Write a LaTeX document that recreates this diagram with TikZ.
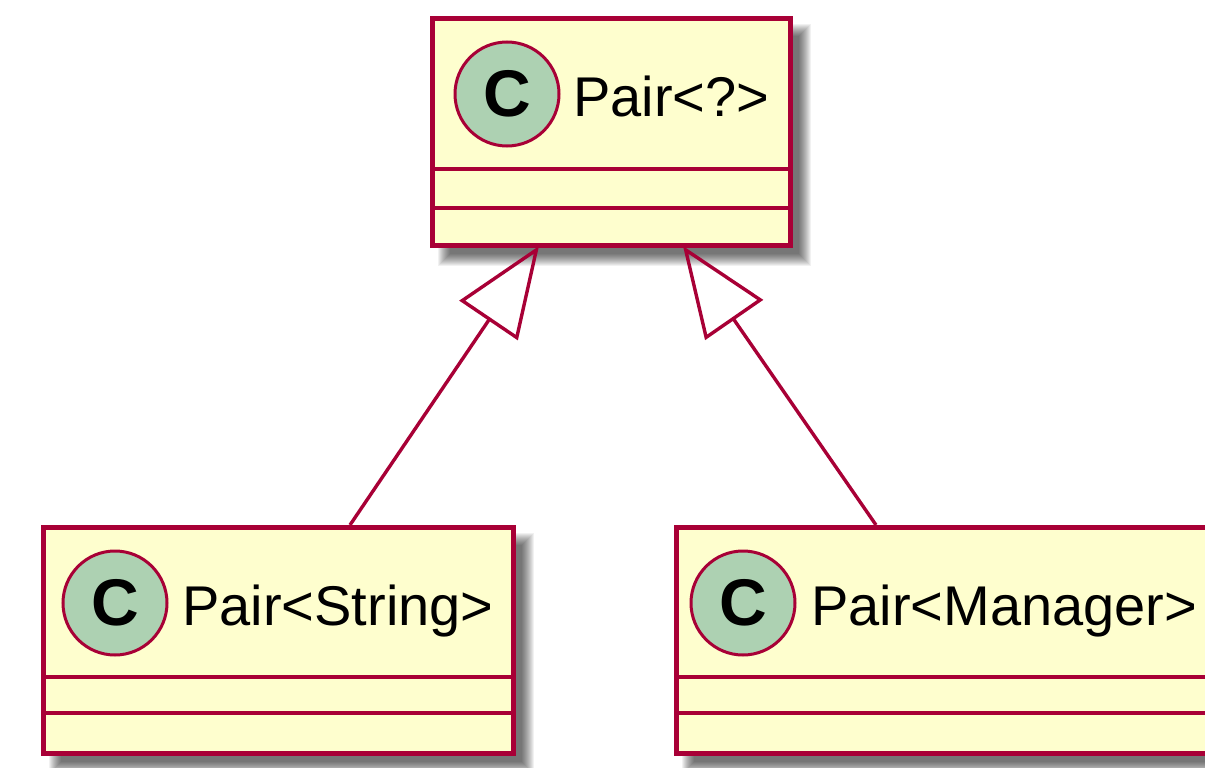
\documentclass[tikz,border=0pt]{standalone}
\usepackage{fontspec}
\setmainfont{Liberation Sans}
\usetikzlibrary{arrows.meta}
\definecolor{umlfill}{HTML}{FEFECE}
\definecolor{umlline}{HTML}{A80036}
\definecolor{umlcirc}{HTML}{ADD1B2}
\tikzset{
  classbox/.style={draw=umlline, fill=umlfill, line width=5pt, rectangle, inner sep=0pt},
  shadowlayer/.style={fill=black, opacity=0.055},
  divider/.style={draw=umlline, line width=4pt},
  badge/.style={circle, draw=umlline, fill=umlcirc, line width=3pt, minimum size=104pt, inner sep=0pt,
    font=\fontsize{66}{66}\selectfont\bfseries},
  cname/.style={anchor=base west, inner sep=0pt, font=\fontsize{56}{60}\selectfont},
  ext/.style={draw=umlline, line width=3.4pt,
    -{Triangle[open, length=90pt, width=70pt, line width=3.4pt]}}
}
\newcommand{\dropshadow}[4]{%
  \foreach \s in {-6,...,6}{\fill[shadowlayer] (#1+14-\s,#2+14-\s) rectangle (#3+12+\s,#4+12+\s);}}
\begin{document}
\begin{tikzpicture}[x=1pt,y=-1pt]
\useasboundingbox (0,0) rectangle (1205,768);
\clip (0,0) rectangle (1205,768);
\fill[white] (0,0) rectangle (1205,768);
% shadows
\dropshadow{430}{16}{793}{248}
\dropshadow{41}{525}{516}{756}
\dropshadow{674}{525}{1240}{756}
% top class
\node[classbox, minimum width=358pt, minimum height=227pt] (top) at (611.5,132) {};
\draw[divider] (432.5,169) -- (790.5,169);
\draw[divider] (432.5,208) -- (790.5,208);
\node[badge] (topc) at (507,94) {C};
\node[cname] (topt) at (573,117) {Pair<?>};
% bottom-left class
\node[classbox, minimum width=470pt, minimum height=226pt] (sl) at (278.5,640.5) {};
\draw[divider] (43.5,677) -- (513.5,677);
\draw[divider] (43.5,713) -- (513.5,713);
\node[badge] (slc) at (115,603) {C};
\node[cname] (slt) at (182,625) {Pair<String>};
% bottom-right class
\node[classbox, minimum width=551pt, minimum height=226pt] (sr) at (952,640.5) {};
\draw[divider] (676.5,677) -- (1240,677);
\draw[divider] (676.5,713) -- (1240,713);
\node[badge] (src) at (743,603) {C};
\node[cname] (srt) at (811,625) {Pair<Manager>};
% connectors
\coordinate (slfrom) at (350,525);
\coordinate (srfrom) at (876,525);
\coordinate (tipl) at (539,246);
\coordinate (tipr) at (683,246);
\draw[ext] (slfrom) -- (tipl);
\draw[ext] (srfrom) -- (tipr);
\end{tikzpicture}
\end{document}
